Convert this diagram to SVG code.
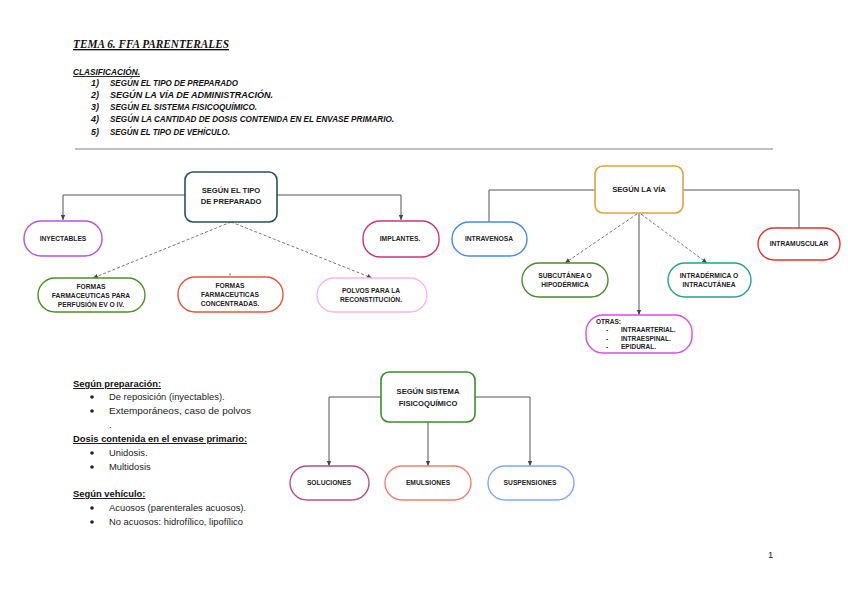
<svg xmlns="http://www.w3.org/2000/svg" width="848" height="600" viewBox="0 0 848 600">
<defs>
<style>
.hd{font-family:"Liberation Sans",Arial,sans-serif;font-weight:bold;font-style:italic;fill:#111;font-size:9px}
.nt{font-family:"Liberation Sans",Arial,sans-serif;font-weight:bold;fill:#222;font-size:6.7px;text-anchor:middle}
.ns{font-family:"Liberation Sans",Arial,sans-serif;font-weight:bold;fill:#222;font-size:6.5px;text-anchor:start}
.rt{font-family:"Liberation Sans",Arial,sans-serif;font-weight:bold;fill:#222;font-size:7.6px;text-anchor:middle}
.body{font-family:"Liberation Sans",Arial,sans-serif;fill:#222;font-size:9.4px}
.bh{font-family:"Liberation Sans",Arial,sans-serif;fill:#111;font-size:9.4px;font-weight:bold;text-decoration:underline}
.box{fill:#fff;stroke-width:1.6}
.pill{fill:#fff;stroke-width:1.4}
.c{fill:none;stroke:#555;stroke-width:1}
.d{fill:none;stroke:#666;stroke-width:0.9;stroke-dasharray:3,2}
</style>
<marker id="a" markerWidth="6" markerHeight="6" refX="5" refY="3" orient="auto" markerUnits="userSpaceOnUse">
<path d="M0,0.8 L5,3 L0,5.2 z" fill="#444"/>
</marker>
</defs>
<rect width="848" height="600" fill="#fff"/>

<g id="header">
<text x="73" y="48" font-family="Liberation Serif,serif" font-weight="bold" font-style="italic" font-size="13.5" text-decoration="underline" fill="#111" textLength="156" lengthAdjust="spacingAndGlyphs">TEMA 6. FFA PARENTERALES</text>
<text x="73" y="75" class="hd" text-decoration="underline" textLength="67" lengthAdjust="spacingAndGlyphs">CLASIFICACIÓN.</text>
<text x="91" y="86" class="hd">1)</text>
<text x="110" y="86" class="hd" textLength="128" lengthAdjust="spacingAndGlyphs">SEGÚN EL TIPO DE PREPARADO</text>
<text x="91" y="98" class="hd">2)</text>
<text x="110" y="98" class="hd" textLength="163" lengthAdjust="spacingAndGlyphs">SEGÚN LA VÍA DE ADMINISTRACIÓN.</text>
<text x="91" y="110" class="hd">3)</text>
<text x="110" y="110" class="hd" textLength="147" lengthAdjust="spacingAndGlyphs">SEGÚN EL SISTEMA FISICOQUÍMICO.</text>
<text x="91" y="122" class="hd">4)</text>
<text x="110" y="122" class="hd" textLength="284" lengthAdjust="spacingAndGlyphs">SEGÚN LA CANTIDAD DE DOSIS CONTENIDA EN EL ENVASE PRIMARIO.</text>
<text x="91" y="135" class="hd">5)</text>
<text x="110" y="135" class="hd" textLength="120" lengthAdjust="spacingAndGlyphs">SEGÚN EL TIPO DE VEHÍCULO.</text>
<line x1="75" y1="149" x2="773" y2="149" stroke="#aaa" stroke-width="1.5"/>
</g>

<g id="connectors">
<path class="c" d="M185,195 H63 V220" marker-end="url(#a)"/>
<path class="c" d="M277,195 H401 V220" marker-end="url(#a)"/>
<path class="d" d="M231,222 L93,278" marker-end="url(#a)"/>
<path class="d" d="M231,222 L372,278" marker-end="url(#a)"/>
<path class="c" d="M230,273.5 V275.5"/>
<path class="c" d="M595,190 H489 V222"/>
<path class="c" d="M683,190 H799 V228"/>
<path class="d" d="M637,214 L565,263" marker-end="url(#a)"/>
<path class="d" d="M641,214 L707,263" marker-end="url(#a)"/>
<path class="c" d="M639,213 V315" marker-end="url(#a)"/>
<path class="c" d="M381,397 H329 V466" marker-end="url(#a)"/>
<path class="c" d="M475,397 H530 V466" marker-end="url(#a)"/>
<path class="c" d="M428,422 V466" marker-end="url(#a)"/>
</g>

<g id="n-tipo">
<rect class="box" x="185" y="172" width="92" height="50" rx="8" stroke="#2e5055"/>
<text class="rt" x="231" y="193">SEGÚN EL TIPO</text>
<text class="rt" x="231" y="204">DE PREPARADO</text>
</g>
<g id="n-inyectables">
<rect class="pill" x="24" y="221" width="78" height="35" rx="17" stroke="#b155e6"/>
<text class="nt" x="63" y="241">INYECTABLES</text>
</g>
<g id="n-implantes">
<rect class="pill" x="363" y="221" width="76" height="36" rx="17" stroke="#cc3377"/>
<text class="nt" x="400" y="241">IMPLANTES.</text>
</g>
<g id="n-perfusion">
<rect class="pill" x="38" y="278" width="107" height="34" rx="17" stroke="#4d8f2a"/>
<text class="nt" x="91" y="289">FORMAS</text>
<text class="nt" x="91" y="298">FARMACEUTICAS PARA</text>
<text class="nt" x="91" y="307">PERFUSIÓN EV O IV.</text>
</g>
<g id="n-concentradas">
<rect class="pill" x="178" y="277" width="105" height="35" rx="17" stroke="#e5553a"/>
<text class="nt" x="230" y="288">FORMAS</text>
<text class="nt" x="230" y="297">FARMACEUTICAS</text>
<text class="nt" x="230" y="306">CONCENTRADAS.</text>
</g>
<g id="n-polvos">
<rect class="pill" x="317" y="278" width="110" height="34" rx="17" stroke="#f7b9e6"/>
<text class="nt" x="371" y="293">POLVOS PARA LA</text>
<text class="nt" x="371" y="302">RECONSTITUCIÓN.</text>
</g>

<g id="n-via">
<rect class="box" x="595" y="166" width="88" height="47" rx="8" stroke="#d6a83a"/>
<text class="rt" x="639" y="192">SEGÚN LA VÍA</text>
</g>
<g id="n-intravenosa">
<rect class="pill" x="452" y="222" width="75" height="34" rx="17" stroke="#4a88ea"/>
<text class="nt" x="489" y="241">INTRAVENOSA</text>
</g>
<g id="n-intramuscular">
<rect class="pill" x="758" y="228" width="82" height="32" rx="16" stroke="#e03434"/>
<text class="nt" x="799" y="246">INTRAMUSCULAR</text>
</g>
<g id="n-subcutanea">
<rect class="pill" x="522" y="263" width="86" height="34" rx="17" stroke="#4a8a2a"/>
<text class="nt" x="565" y="278">SUBCUTÁNEA O</text>
<text class="nt" x="565" y="287">HIPODÉRMICA</text>
</g>
<g id="n-intradermica">
<rect class="pill" x="668" y="263" width="83" height="34" rx="17" stroke="#2aa088"/>
<text class="nt" x="709" y="278">INTRADÉRMICA O</text>
<text class="nt" x="709" y="287">INTRACUTÁNEA</text>
</g>
<g id="n-otras">
<rect class="pill" x="586" y="315" width="106" height="38" rx="17" stroke="#d84ee6"/>
<text class="ns" x="596" y="324">OTRAS:</text>
<text class="ns" x="606" y="332">-</text>
<text class="ns" x="621" y="332">INTRAARTERIAL.</text>
<text class="ns" x="606" y="341">-</text>
<text class="ns" x="621" y="341">INTRAESPINAL.</text>
<text class="ns" x="606" y="349">-</text>
<text class="ns" x="621" y="349">EPIDURAL.</text>
</g>

<g id="n-sistema">
<rect class="box" x="381" y="372" width="94" height="50" rx="8" stroke="#3d8c2f"/>
<text class="rt" x="428" y="394">SEGÚN SISTEMA</text>
<text class="rt" x="428" y="406">FISICOQUÍMICO</text>
</g>
<g id="n-soluciones">
<rect class="pill" x="290" y="466" width="79" height="34" rx="17" stroke="#b5508a"/>
<text class="nt" x="329" y="485">SOLUCIONES</text>
</g>
<g id="n-emulsiones">
<rect class="pill" x="385" y="466" width="86" height="34" rx="17" stroke="#f08070"/>
<text class="nt" x="428" y="485">EMULSIONES</text>
</g>
<g id="n-suspensiones">
<rect class="pill" x="488" y="466" width="86" height="34" rx="17" stroke="#80aaf0"/>
<text class="nt" x="530" y="485">SUSPENSIONES</text>
</g>

<g id="notes">
<text class="bh" x="73" y="387">Según preparación:</text>
<circle cx="92" cy="397" r="1.8" fill="#222"/>
<text class="body" x="109" y="400">De reposición (inyectables).</text>
<circle cx="92" cy="411" r="1.8" fill="#222"/>
<text class="body" x="109" y="414" textLength="142" lengthAdjust="spacingAndGlyphs">Extemporáneos, caso de polvos</text>
<text class="body" x="109" y="428">.</text>
<text class="bh" x="73" y="442">Dosis contenida en el envase primario:</text>
<circle cx="92" cy="453" r="1.8" fill="#222"/>
<text class="body" x="109" y="456">Unidosis.</text>
<circle cx="92" cy="467" r="1.8" fill="#222"/>
<text class="body" x="109" y="470">Multidosis</text>
<text class="bh" x="73" y="497">Según vehículo:</text>
<circle cx="92" cy="508" r="1.8" fill="#222"/>
<text class="body" x="109" y="511">Acuosos (parenterales acuosos).</text>
<circle cx="92" cy="522" r="1.8" fill="#222"/>
<text class="body" x="109" y="525">No acuosos: hidrofílico, lipofílico</text>
<text class="body" x="768" y="558">1</text>
</g>
</svg>
